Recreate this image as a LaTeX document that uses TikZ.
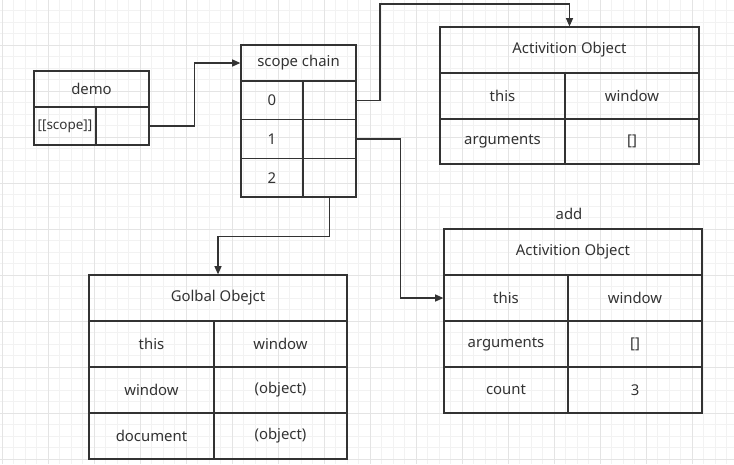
\documentclass[tikz,border=0pt]{standalone}
\usepackage{fontspec}
\setmainfont{Noto Sans}
\usetikzlibrary{arrows.meta}
\definecolor{ink}{HTML}{333333}
\definecolor{gridminor}{HTML}{F2F2F2}
\definecolor{gridmajor}{HTML}{E4E4E4}
\begin{document}
\begin{tikzpicture}[x=0.03cm, y=-0.03cm,
    cell/.style 2 args={draw=ink, line width=1.1pt, inner sep=0pt,
      minimum width=#1*0.03cm, minimum height=#2*0.03cm,
      text=ink, font=\fontsize{12.7}{15}\selectfont},
    conn/.style={draw=ink, line width=1pt, -{Triangle[length=7pt,width=6pt]}}]
  \useasboundingbox[fill=white] (0,0) rectangle (734,464);
  % grid
  \foreach \i in {0,...,63} \draw[gridminor, line width=0.6pt] ({2+\i*11.5},0) -- ++(0,464);
  \foreach \i in {0,...,40} \draw[gridminor, line width=0.6pt] (0,{-1+\i*11.5}) -- ++(734,0);
  \foreach \i in {0,...,15} \draw[gridmajor, line width=0.7pt] ({2+\i*46},0) -- ++(0,464);
  \foreach \i in {0,...,10} \draw[gridmajor, line width=0.7pt] (0,{-1+\i*46}) -- ++(734,0);

  % demo
  \node[cell={115}{36}] (demoHead) at (91.5,89) {demo};
  \node[cell={62}{38}, font=\fontsize{11.5}{14}\selectfont] (demoKey) at (65,126) {[[scope]]};
  \node[cell={53}{38}] (demoVal) at (122.5,126) {};

  % scope chain
  \node[cell={115}{36}] (chainHead) at (298.5,63) {scope chain};
  \node[cell={62}{38.7}] (chainIdx0) at (272,100.3) {0};
  \node[cell={53}{38.7}] (chainRef0) at (329.5,100.3) {};
  \node[cell={62}{38.7}] (chainIdx1) at (272,139) {1};
  \node[cell={53}{38.7}] (chainRef1) at (329.5,139) {};
  \node[cell={62}{38.7}] (chainIdx2) at (272,177.7) {2};
  \node[cell={53}{38.7}] (chainRef2) at (329.5,177.7) {};

  % activition object (global context)
  \node[cell={259}{46}] (actHead) at (569.5,50) {Activition Object};
  \node[cell={125}{46}] (actThisKey) at (502.5,96) {this};
  \node[cell={134}{46}] (actThisVal) at (632,96) {window};
  \node[cell={125}{45}] (actArgsKey) at (502.5,141.5) {arguments};
  \node[cell={134}{45}] (actArgsVal) at (632,141.5) {[]};

  % activition object (add)
  \node[text=ink, font=\fontsize{12.7}{15}\selectfont] (addLabel) at (569,214) {add};
  \node[cell={258}{46}] (addHead) at (573,252) {Activition Object};
  \node[cell={124}{46}] (addThisKey) at (506,298) {this};
  \node[cell={134}{46}] (addThisVal) at (635,298) {window};
  \node[cell={124}{46}] (addArgsKey) at (506,344) {arguments};
  \node[cell={134}{46}] (addArgsVal) at (635,344) {[]};
  \node[cell={124}{46}] (addCountKey) at (506,390) {count};
  \node[cell={134}{46}] (addCountVal) at (635,390) {3};

  % golbal object
  \node[cell={258}{46}] (globHead) at (218,298) {Golbal Obejct};
  \node[cell={125}{46}] (globThisKey) at (151.5,344) {this};
  \node[cell={133}{46}] (globThisVal) at (280.5,344) {window};
  \node[cell={125}{46}] (globWinKey) at (151.5,390) {window};
  \node[cell={133}{46}] (globWinVal) at (280.5,390) {(object)};
  \node[cell={125}{46}] (globDocKey) at (151.5,436) {document};
  \node[cell={133}{46}] (globDocVal) at (280.5,436) {(object)};

  % connectors
  \coordinate (topTurn) at (380,4);
  \draw[conn] (demoVal.east) -- ++(45,0) |- (chainHead.west);
  \draw[conn] (chainRef0.east) -| (topTurn) -| (actHead.north);
  \draw[conn] (chainRef1.east) -- ++(44,0) |- (addThisKey.west);
  \draw[conn] (chainRef2.south) -- ++(0,39) -| (globHead.north);
\end{tikzpicture}
\end{document}
